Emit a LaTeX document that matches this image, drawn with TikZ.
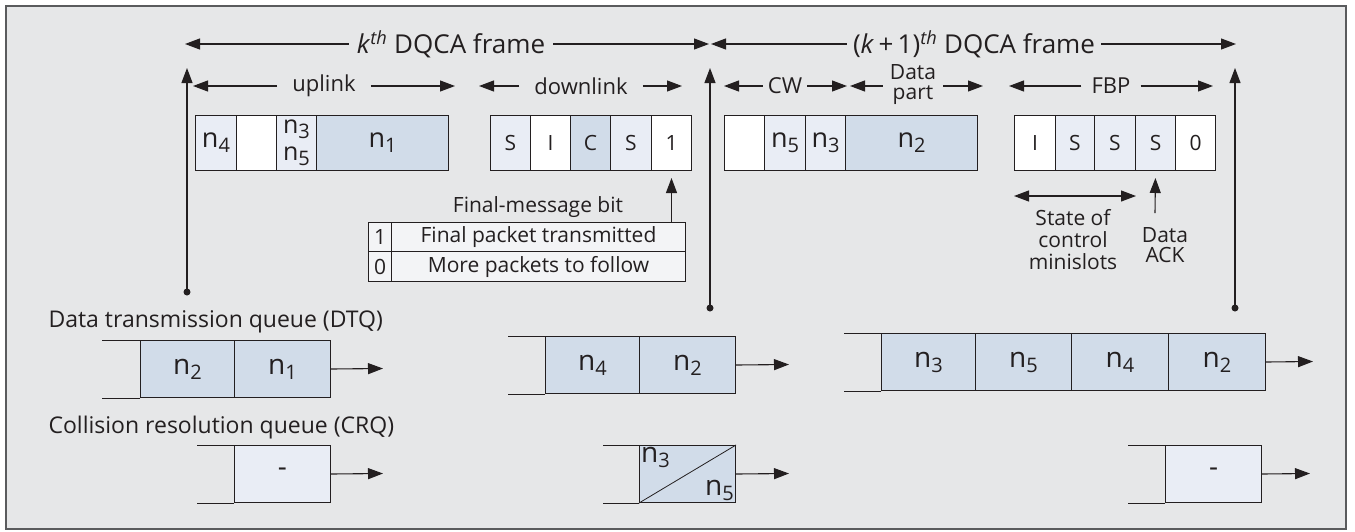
\documentclass[tikz,border=0pt]{standalone}
\usepackage{fontspec}
\setmainfont{Open Sans}
\usetikzlibrary{arrows.meta}
\definecolor{bgcol}{HTML}{E6E7E8}
\definecolor{framecol}{HTML}{5A5B5D}
\definecolor{inkcol}{HTML}{231F20}
\definecolor{lightcell}{HTML}{E9EDF5}
\definecolor{darkcell}{HTML}{D1DCE9}
\definecolor{tablecell}{HTML}{F3F4F6}
\newcommand{\fsz}[1]{\fontsize{#1}{#1}\selectfont}
\newcommand{\nsub}[1]{n\raisebox{-5pt}{\fsz{20}#1}}
\begin{document}
\begin{tikzpicture}[x=1pt, y=1pt,
    arr/.style={line width=1.1pt, draw=inkcol, -{Triangle[length=15pt,width=11pt]}},
    cell/.style={draw=inkcol, line width=1pt, minimum height=55pt, inner sep=0pt,
        anchor=north west, text=inkcol, font=\fsz{27}},
    lite/.style={cell, fill=lightcell},
    dark/.style={cell, fill=darkcell},
    blank/.style={cell, fill=white},
    slot/.style={font=\fsz{21}},
    qcell/.style={minimum height=57pt, font=\fsz{28}},
    tcell/.style={cell, fill=tablecell, minimum height=29pt, font=\fsz{21}},
    txt/.style={text=inkcol, font=\fsz{22}},
    rail/.style={line width=1pt, draw=inkcol}]
    \useasboundingbox (0,0) rectangle (1355,-531);
    \draw[line width=1.5pt, draw=framecol, fill=bgcol] (6,-6) rectangle (1346,-529);

    % frame arrows
    \node[txt, font=\fsz{26}, inner xsep=8pt] (kth) at (451,-44)
        {\textit{k}\textsuperscript{\itshape th} DQCA frame};
    \node[txt, font=\fsz{26}, inner xsep=6pt] (knext) at (974,-44)
        {(\textit{k}\,+\,1)\textsuperscript{\itshape th} DQCA frame};
    \coordinate (kL) at (185,-44);
    \coordinate (kR) at (709,-44);
    \coordinate (nL) at (711,-44);
    \coordinate (nR) at (1236,-44);
    \draw[arr] (kth) -- (kL);
    \draw[arr] (kth) -- (kR);
    \draw[arr] (knext) -- (nL);
    \draw[arr] (knext) -- (nR);

    % frame boundaries
    \coordinate (top1) at (187,-68);
    \coordinate (dot1) at (187,-292);
    \coordinate (top2) at (710,-68);
    \coordinate (dot2) at (710,-308);
    \coordinate (top3) at (1235,-68);
    \coordinate (dot3) at (1235,-308);
    \draw[arr] (dot1) -- (top1);
    \draw[arr] (dot2) -- (top2);
    \draw[arr] (dot3) -- (top3);
    \fill[inkcol] (dot1) circle (3.5) (dot2) circle (3.5) (dot3) circle (3.5);

    % part arrows
    \node[txt, inner xsep=15pt] (up) at (324,-86) {uplink};
    \node[txt, inner xsep=15pt] (down) at (581,-86) {downlink};
    \node[txt, inner xsep=5pt] (cw) at (785,-86) {CW};
    \node[txt, inner xsep=7pt, align=center, font=\fontsize{21}{20}\selectfont]
        (dpart) at (913,-85) {Data\\part};
    \node[txt, inner xsep=10pt] (fbp) at (1111,-86) {FBP};
    \coordinate (upL) at (193,-86);
    \coordinate (upR) at (455,-86);
    \coordinate (dnL) at (479,-86);
    \coordinate (dnR) at (682,-86);
    \coordinate (cwL) at (724,-86);
    \coordinate (cwR) at (847,-86);
    \coordinate (dpL) at (850,-86);
    \coordinate (dpR) at (983,-86);
    \coordinate (fbL) at (1009,-86);
    \coordinate (fbR) at (1213,-86);
    \draw[arr] (up) -- (upL);
    \draw[arr] (up) -- (upR);
    \draw[arr] (down) -- (dnL);
    \draw[arr] (down) -- (dnR);
    \draw[arr] (cw) -- (cwL);
    \draw[arr] (cw) -- (cwR);
    \draw[arr] (dpart.west |- dpL) -- (dpL);
    \draw[arr] (dpart.east |- dpR) -- (dpR);
    \draw[arr] (fbp) -- (fbL);
    \draw[arr] (fbp) -- (fbR);

    % uplink slots
    \node[lite, minimum width=41] (u1) at (195,-115) {\nsub4};
    \node[blank, minimum width=40] (u2) at (236,-115) {};
    \node[lite, minimum width=40, align=center, font=\fontsize{25}{24}\selectfont]
        (u3) at (276,-115) {\nsub3\\[3pt]\nsub5};
    \node[dark, minimum width=132] (u4) at (316,-115) {\nsub1};

    % downlink slots
    \node[lite, slot, minimum width=40] (d1) at (490,-115) {S};
    \node[blank, slot, minimum width=40] (d2) at (530,-115) {I};
    \node[dark, slot, minimum width=40] (d3) at (570,-115) {C};
    \node[lite, slot, minimum width=41] (d4) at (610,-115) {S};
    \node[blank, slot, minimum width=40] (d5) at (651,-115) {1};

    % CW and data part
    \node[blank, minimum width=40] (c1) at (724,-115) {};
    \node[lite, minimum width=41] (c2) at (764,-115) {\nsub5};
    \node[lite, minimum width=40] (c3) at (805,-115) {\nsub3};
    \node[dark, minimum width=132] (c4) at (845,-115) {\nsub2};

    % FBP slots
    \node[blank, slot, minimum width=41] (f1) at (1014,-115) {I};
    \node[lite, slot, minimum width=39] (f2) at (1055,-115) {S};
    \node[lite, slot, minimum width=41] (f3) at (1094,-115) {S};
    \node[lite, slot, minimum width=40] (f4) at (1135,-115) {S};
    \node[blank, slot, minimum width=40] (f5) at (1175,-115) {0};

    % final-message bit table
    \node[txt, font=\fsz{21}] (fmb) at (538,-207) {Final-message bit};
    \node[tcell, minimum width=23] (t1a) at (368,-222) {1};
    \node[tcell, minimum width=294] (t1b) at (391,-222) {Final packet transmitted};
    \node[tcell, minimum width=23, minimum height=30] (t0a) at (368,-251) {0};
    \node[tcell, minimum width=294, minimum height=30] (t0b) at (391,-251) {More packets to follow};
    \draw[arr, shorten >=7pt] (d5.south |- t1b.north) -- (d5.south);

    % FBP notes
    \draw[line width=1.1pt, draw=inkcol,
        {Triangle[length=15pt,width=11pt]}-{Triangle[length=15pt,width=11pt]}]
        ([yshift=-25pt]f1.south west) -- ([yshift=-25pt]f3.south east);
    \node[txt, align=center, font=\fontsize{21}{22}\selectfont] (state) at (1073,-240)
        {State of\\control\\minislots};
    \node[txt, align=center, font=\fontsize{21}{20}\selectfont] (ack) at (1165,-245) {Data\\ACK};
    \coordinate (ackbot) at (1155,-213);
    \draw[arr, shorten >=7pt] (ackbot) -- (f4.south);

    % queues
    \node[txt, font=\fsz{23}, anchor=west] (dtq) at (45,-322) {Data transmission queue (DTQ)};
    \node[txt, font=\fsz{23}, anchor=west] (crq) at (45,-428) {Collision resolution queue (CRQ)};

    \node[dark, qcell, minimum width=94] (qa1) at (140,-340) {\nsub2};
    \node[dark, qcell, minimum width=96] (qa2) at (234,-340) {\nsub1};
    \draw[rail] (qa1.north west) -- +(-38,0) (qa1.south west) -- +(-38,0);
    \coordinate (oa) at (383,-368.5);
    \draw[arr] (qa2.east) -- (oa);

    \node[lite, qcell, minimum width=96] (qb1) at (234,-445) {\raisebox{3pt}{-}};
    \draw[rail] (qb1.north west) -- +(-37,0) (qb1.south west) -- +(-37,0);
    \coordinate (ob) at (383,-473.5);
    \draw[arr] (qb1.east) -- (ob);

    \node[dark, qcell, minimum width=94] (qc1) at (545,-336) {\nsub4};
    \node[dark, qcell, minimum width=96] (qc2) at (639,-336) {\nsub2};
    \draw[rail] (qc1.north west) -- +(-37,0) (qc1.south west) -- +(-37,0);
    \coordinate (oc) at (789,-364.5);
    \draw[arr] (qc2.east) -- (oc);

    \node[dark, qcell, minimum width=96] (qd1) at (639,-445) {};
    \draw[rail] (qd1.north west) -- +(-36,0) (qd1.south west) -- +(-36,0);
    \draw[line width=0.8pt, draw=inkcol] (qd1.south west) -- (qd1.north east);
    \node[text=inkcol, font=\fsz{28}, anchor=north west, inner sep=2pt] (qd3) at (qd1.north west) {\nsub3};
    \node[text=inkcol, font=\fsz{28}, anchor=south east, inner sep=2pt] (qd5) at (qd1.south east) {\nsub5};
    \coordinate (od) at (789,-473.5);
    \draw[arr] (qd1.east) -- (od);

    \node[dark, qcell, minimum width=94] (qe1) at (881,-333) {\nsub3};
    \node[dark, qcell, minimum width=96] (qe2) at (975,-333) {\nsub5};
    \node[dark, qcell, minimum width=97] (qe3) at (1071,-333) {\nsub4};
    \node[dark, qcell, minimum width=97] (qe4) at (1168,-333) {\nsub2};
    \draw[rail] (qe1.north west) -- +(-37,0) (qe1.south west) -- +(-37,0);
    \coordinate (oe) at (1313,-361.5);
    \draw[arr] (qe4.east) -- (oe);

    \node[lite, qcell, minimum width=96] (qf1) at (1165,-445) {\raisebox{3pt}{-}};
    \draw[rail] (qf1.north west) -- +(-37,0) (qf1.south west) -- +(-37,0);
    \coordinate (of) at (1310,-473.5);
    \draw[arr] (qf1.east) -- (of);
\end{tikzpicture}
\end{document}
